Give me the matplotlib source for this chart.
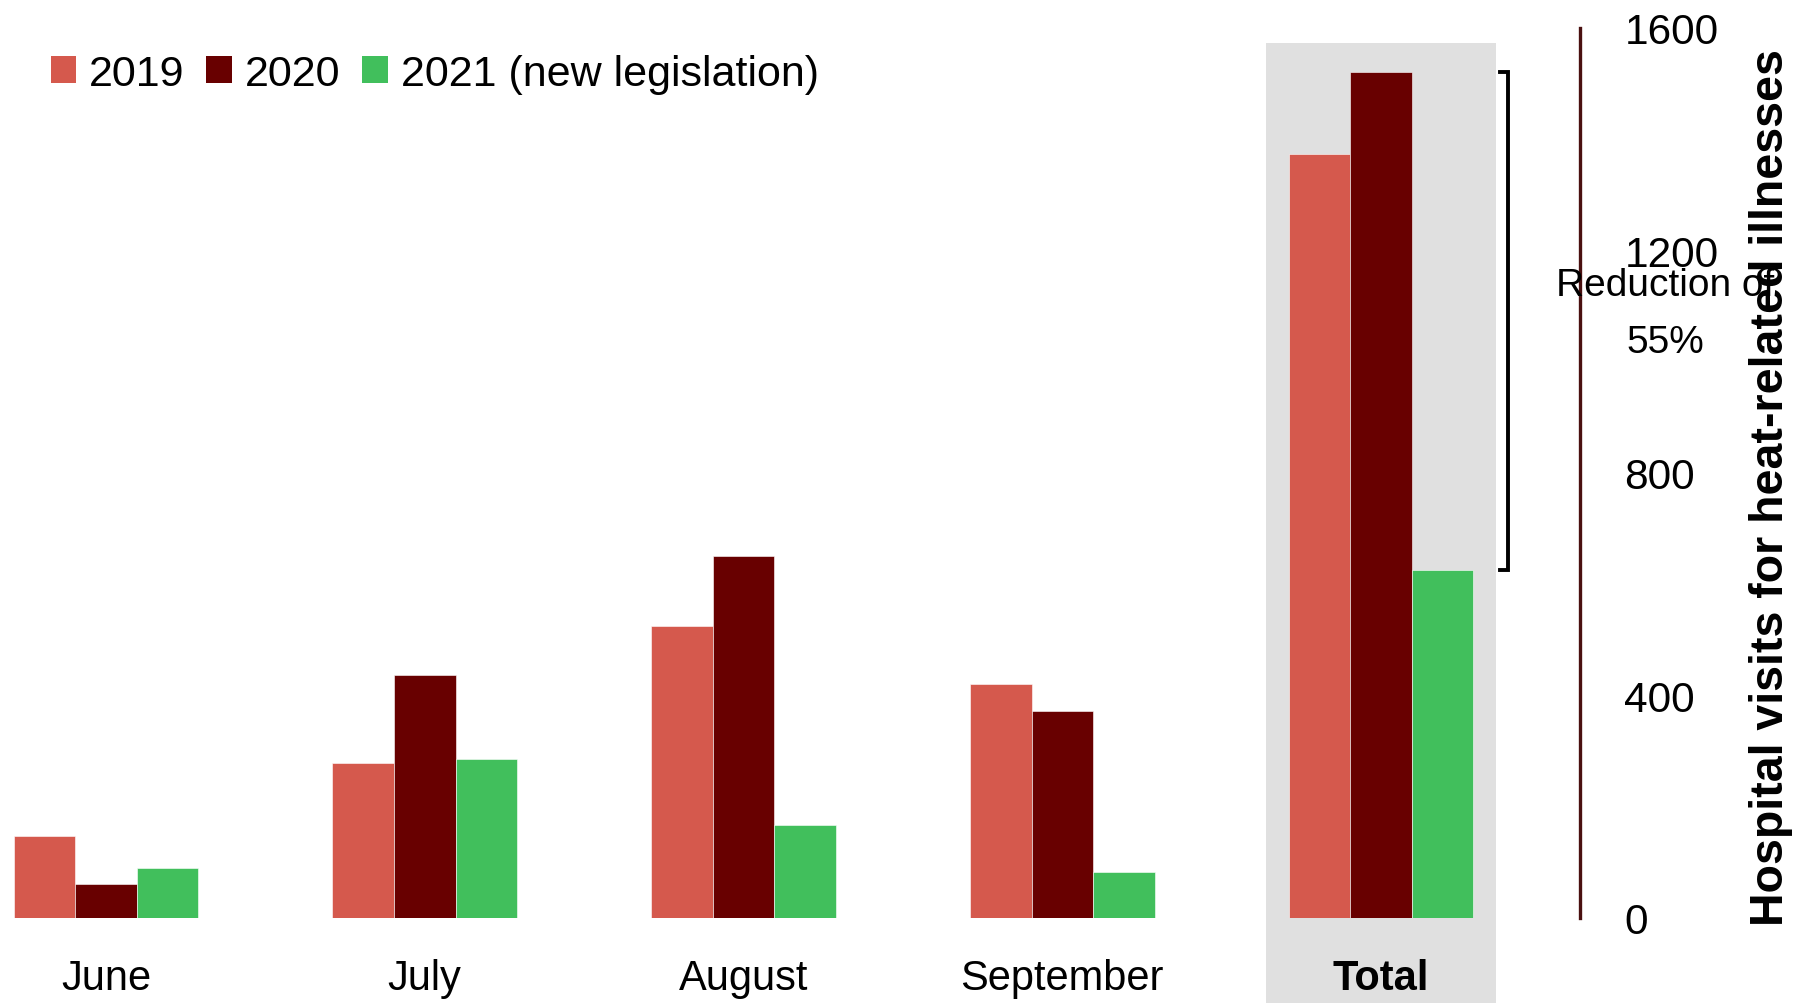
import numpy as np
import matplotlib
matplotlib.use("Agg")
import matplotlib.pyplot as plt
from matplotlib import font_manager
from matplotlib.patches import Patch, Rectangle

# Hospital visits for heat-related illnesses, by month
months = ["June", "July", "August", "September", "Total"]
visits_2019 = [147, 279, 524, 421, 1373]
visits_2020 = [61, 436, 651, 372, 1521]
visits_2021 = [90, 285, 168, 82, 626]
series_labels = ["2019", "2020", "2021 (new legislation)"]
reduction_text = "Reduction of\n55%"
y_ticks = [0, 400, 800, 1200, 1600]

COLORS = ["#d5594d", "#680000", "#41bf5c"]
SHADE = "#e0e0e0"
AXIS_COLOR = "#4a1010"

names = {f.name for f in font_manager.fontManager.ttflist}
BASE_FONT = "Liberation Sans" if "Liberation Sans" in names else "DejaVu Sans"
NARROW_FONT = "Liberation Sans Narrow" if "Liberation Sans Narrow" in names else BASE_FONT
plt.rcParams["font.family"] = [BASE_FONT, "DejaVu Sans"]

fig = plt.figure(figsize=(18.03, 10.04), dpi=100)
ax = fig.add_axes([0.0, 0.0847, 0.8763, 0.8865])

x = np.arange(len(months))
bw = 0.193
for i, (vals, col, lab) in enumerate(zip([visits_2019, visits_2020, visits_2021], COLORS, series_labels)):
    ax.bar(x + (i - 1) * bw, vals, width=bw, color=col, label=lab,
           edgecolor="white", linewidth=0.4, zorder=2)

# shaded column behind the totals, running off the bottom of the figure
ax.add_patch(Rectangle((x[-1] - 0.36, -300), 0.72, 1573 + 300,
                       facecolor=SHADE, edgecolor="none", zorder=0, clip_on=False))

ax.set_xlim(-0.3325, 4.624)
ax.set_ylim(0, 1600)

for side in ["top", "left", "bottom"]:
    ax.spines[side].set_visible(False)
ax.spines["right"].set_color(AXIS_COLOR)
ax.spines["right"].set_linewidth(2.4)

ax.yaxis.tick_right()
ax.set_yticks(y_ticks)
ax.set_yticklabels([str(v) for v in y_ticks])
ax.tick_params(axis="y", length=0, pad=32, labelsize=30.5)

ax.set_xticks(x)
ax.set_xticklabels(months)
ax.tick_params(axis="x", length=0, pad=29, labelsize=30)
ax.get_xticklabels()[-1].set_fontweight("bold")

# bracket from the 2020 total down to the 2021 total
tot_hi, tot_lo = visits_2020[-1], visits_2021[-1]
ax.plot([4.373, 4.398, 4.398, 4.373], [tot_hi, tot_hi, tot_lo, tot_lo],
        color="black", lw=2.8, clip_on=False, solid_joinstyle="miter", zorder=3)
ax.text(4.891, 1086, reduction_text, ha="center", va="center",
        fontsize=28, linespacing=1.75, clip_on=False, zorder=4)

handles = [Patch(facecolor=c, edgecolor="none") for c in COLORS]
ax.legend(handles, series_labels, loc="upper left", bbox_to_anchor=(0.032, 0.971),
          ncol=3, frameon=False, fontsize=31, borderpad=0, borderaxespad=0,
          handlelength=0.6, handleheight=0.6, handletextpad=0.3,
          columnspacing=0.5)

if NARROW_FONT != BASE_FONT:
    fig.text(0.9825, 0.514, "Hospital visits for heat-related illnesses",
             rotation=90, ha="center", va="center", fontsize=39,
             fontweight="bold", family=[NARROW_FONT, "DejaVu Sans"])
else:
    fig.text(0.9825, 0.514, "Hospital visits for heat-related illnesses",
             rotation=90, ha="center", va="center", fontsize=33.5,
             fontweight="bold")

fig.savefig("out.png", dpi=100, facecolor="white")
plt.close(fig)
